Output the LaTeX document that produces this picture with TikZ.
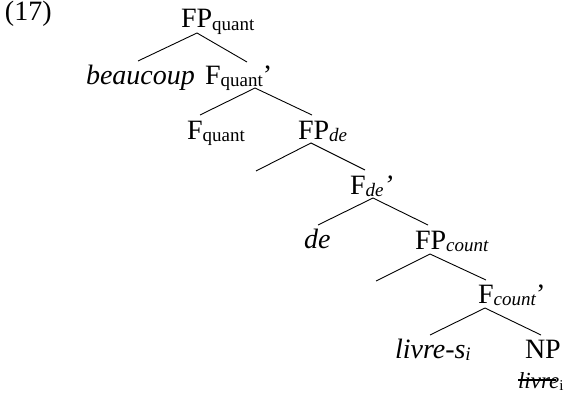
\documentclass[tikz,border=0pt]{standalone}
\usepackage{fontspec}
\setmainfont{Liberation Serif}
\begin{document}
\begin{tikzpicture}[x=1pt,y=-1pt,
  lbl/.style={anchor=base west,inner sep=0pt,outer sep=0pt,font=\fontsize{28}{30}\selectfont},
  small/.style={anchor=base west,inner sep=0pt,outer sep=0pt,font=\fontsize{23}{25}\selectfont},
  branch/.style={line width=0.9pt}]
\newcommand{\sbs}[1]{\raisebox{-2pt}{\fontsize{19}{20}\selectfont #1}}
\useasboundingbox (0,0) rectangle (575,396);
\node[lbl] (ex) at (5,21) {(17)};
\node[lbl] (fpq) at (181,28) {FP\sbs{quant}};
\node[lbl] (beau) at (86,84) {\textit{beaucoup}};
\node[lbl] (fqbar) at (205,84) {F\sbs{quant}’};
\node[lbl] (fq) at (187,139) {F\sbs{quant}};
\node[lbl] (fpde) at (298,139) {FP\sbs{\textit{de}}};
\node[lbl] (fdebar) at (350,194) {F\sbs{\textit{de}}\textit{’}};
\node[lbl] (de) at (304,248) {\textit{de}};
\node[lbl] (fpc) at (415,249) {FP\sbs{\textit{count}}};
\node[lbl] (fcbar) at (478,303) {F\sbs{\textit{count}}’};
\node[lbl] (livs) at (395,358) {\textit{livre-s}\sbs{\textit{i}}};
\node[lbl] (np) at (525,358) {NP};
\node[small] (livt) at (518,388) {\textit{livre}\sbs{\fontsize{15}{16}\selectfont i}};
% apex and branch ends
\coordinate (a1) at (197,33); \coordinate (l1) at (138,61); \coordinate (r1) at (247,62);
\coordinate (a2) at (255,88); \coordinate (l2) at (200,115); \coordinate (r2) at (312,115);
\coordinate (a3) at (311,143); \coordinate (l3) at (256,171); \coordinate (r3) at (365,170);
\coordinate (a4) at (373,198); \coordinate (l4) at (318,225); \coordinate (r4) at (428,225);
\coordinate (a5) at (430,254); \coordinate (l5) at (376,281); \coordinate (r5) at (486,280);
\coordinate (a6) at (485,308); \coordinate (l6) at (430,335); \coordinate (r6) at (541,335);
\foreach \i in {1,...,6}{\draw[branch] (l\i) -- (a\i) -- (r\i);}
\coordinate (s1) at (518,380); \coordinate (s2) at (556,380);
\draw[line width=1.3pt] (s1) -- (s2);
\end{tikzpicture}
\end{document}
